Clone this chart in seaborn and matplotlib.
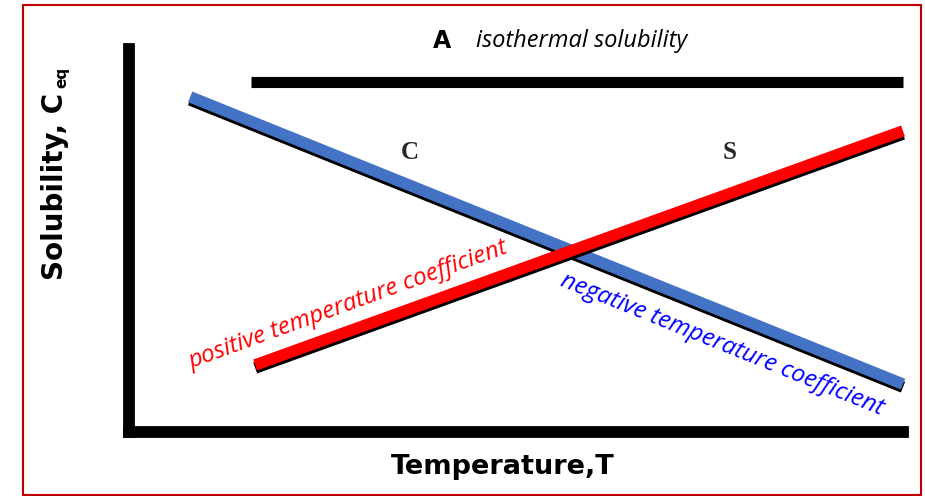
import matplotlib
matplotlib.use("Agg")
import matplotlib.pyplot as plt
import matplotlib.patheffects as pe
from matplotlib.patches import Rectangle
import seaborn as sns

# Solubility vs temperature (arbitrary units, 0-10 on both axes)
temp_isothermal = [1.57, 10.0]
sol_isothermal = [9.14, 9.14]

temp_negative = [0.79, 10.0]
sol_negative = [8.75, 1.25]

temp_positive = [1.63, 10.0]
sol_positive = [1.75, 7.86]

x_label = "Temperature,T"
y_label = "Solubility, C"
y_label_sub = "eq"
title_letter = "A"
title_text = "isothermal solubility"
neg_letter = "C"
pos_letter = "S"
pos_text = "positive temperature coefficient"
neg_text = "negative temperature coefficient"

sns.set_theme(style="white")

W, H = 925, 496
fig = plt.figure(figsize=(W / 100, H / 100), dpi=100)
fig.patch.set_facecolor("white")
ax = fig.add_axes([129 / W, (H - 432) / H, 774 / W, 383 / H])
ax.set_xlim(0, 10)
ax.set_ylim(0, 10)
ax.set_xticks([])
ax.set_yticks([])

sns.despine(ax=ax)
for side in ("left", "bottom"):
    ax.spines[side].set_linewidth(8.5)
    ax.spines[side].set_color("black")
ax.spines["left"].set_capstyle("projecting")

shadow = [pe.SimpleLineShadow(offset=(0, -2.2), shadow_color="black", alpha=1.0),
          pe.Normal()]

sns.lineplot(x=temp_isothermal, y=sol_isothermal, ax=ax, color="black",
             linewidth=8, solid_capstyle="butt", clip_on=False)
sns.lineplot(x=temp_negative, y=sol_negative, ax=ax, color="#4472C4",
             linewidth=8.3, solid_capstyle="butt", clip_on=False,
             path_effects=shadow)
sns.lineplot(x=temp_positive, y=sol_positive, ax=ax, color="#FF0000",
             linewidth=8.3, solid_capstyle="butt", clip_on=False,
             path_effects=shadow)

# Annotations
ax.text(4.04, 10.21, title_letter, fontsize=17, fontweight="bold",
        family="DejaVu Sans", ha="center", va="center", color="black")
ax.text(4.48, 10.21, title_text, fontsize=17, style="italic",
        family="Open Sans", ha="left", va="center", color="black")
ax.text(3.63, 7.31, neg_letter, fontsize=18, fontweight="bold",
        family="Liberation Serif", ha="center", va="center")
ax.text(7.76, 7.31, pos_letter, fontsize=18, fontweight="bold",
        family="Liberation Serif", ha="center", va="center")
ax.text(2.83, 3.32, pos_text, fontsize=17.5, style="italic", family="Open Sans",
        color="red", rotation=20, ha="center", va="center",
        rotation_mode="anchor")
ax.text(7.66, 2.27, neg_text, fontsize=17.5, style="italic", family="Open Sans",
        color="blue", rotation=-22, ha="center", va="center",
        rotation_mode="anchor")

# Axis titles
ax.text(0.483, -0.0914, x_label, fontsize=19.5, fontweight="bold",
        family="DejaVu Sans", va="center", ha="center", color="black",
        transform=ax.transAxes)
ax.text(-0.0955, 0.640, y_label, fontsize=20, fontweight="bold",
        family="DejaVu Sans", rotation=90, va="center", ha="center",
        color="black", transform=ax.transAxes)
ax.text(-0.0866, 0.925, y_label_sub, fontsize=11, fontweight="bold",
        family="DejaVu Sans", rotation=90, ha="center", va="center",
        color="black", transform=ax.transAxes)

fig.patches.append(Rectangle((23 / W, 1 / H), 898 / W, 490 / H,
                             transform=fig.transFigure, fill=False,
                             edgecolor="#C00000", linewidth=1.5))

fig.savefig("out.png", dpi=100)
